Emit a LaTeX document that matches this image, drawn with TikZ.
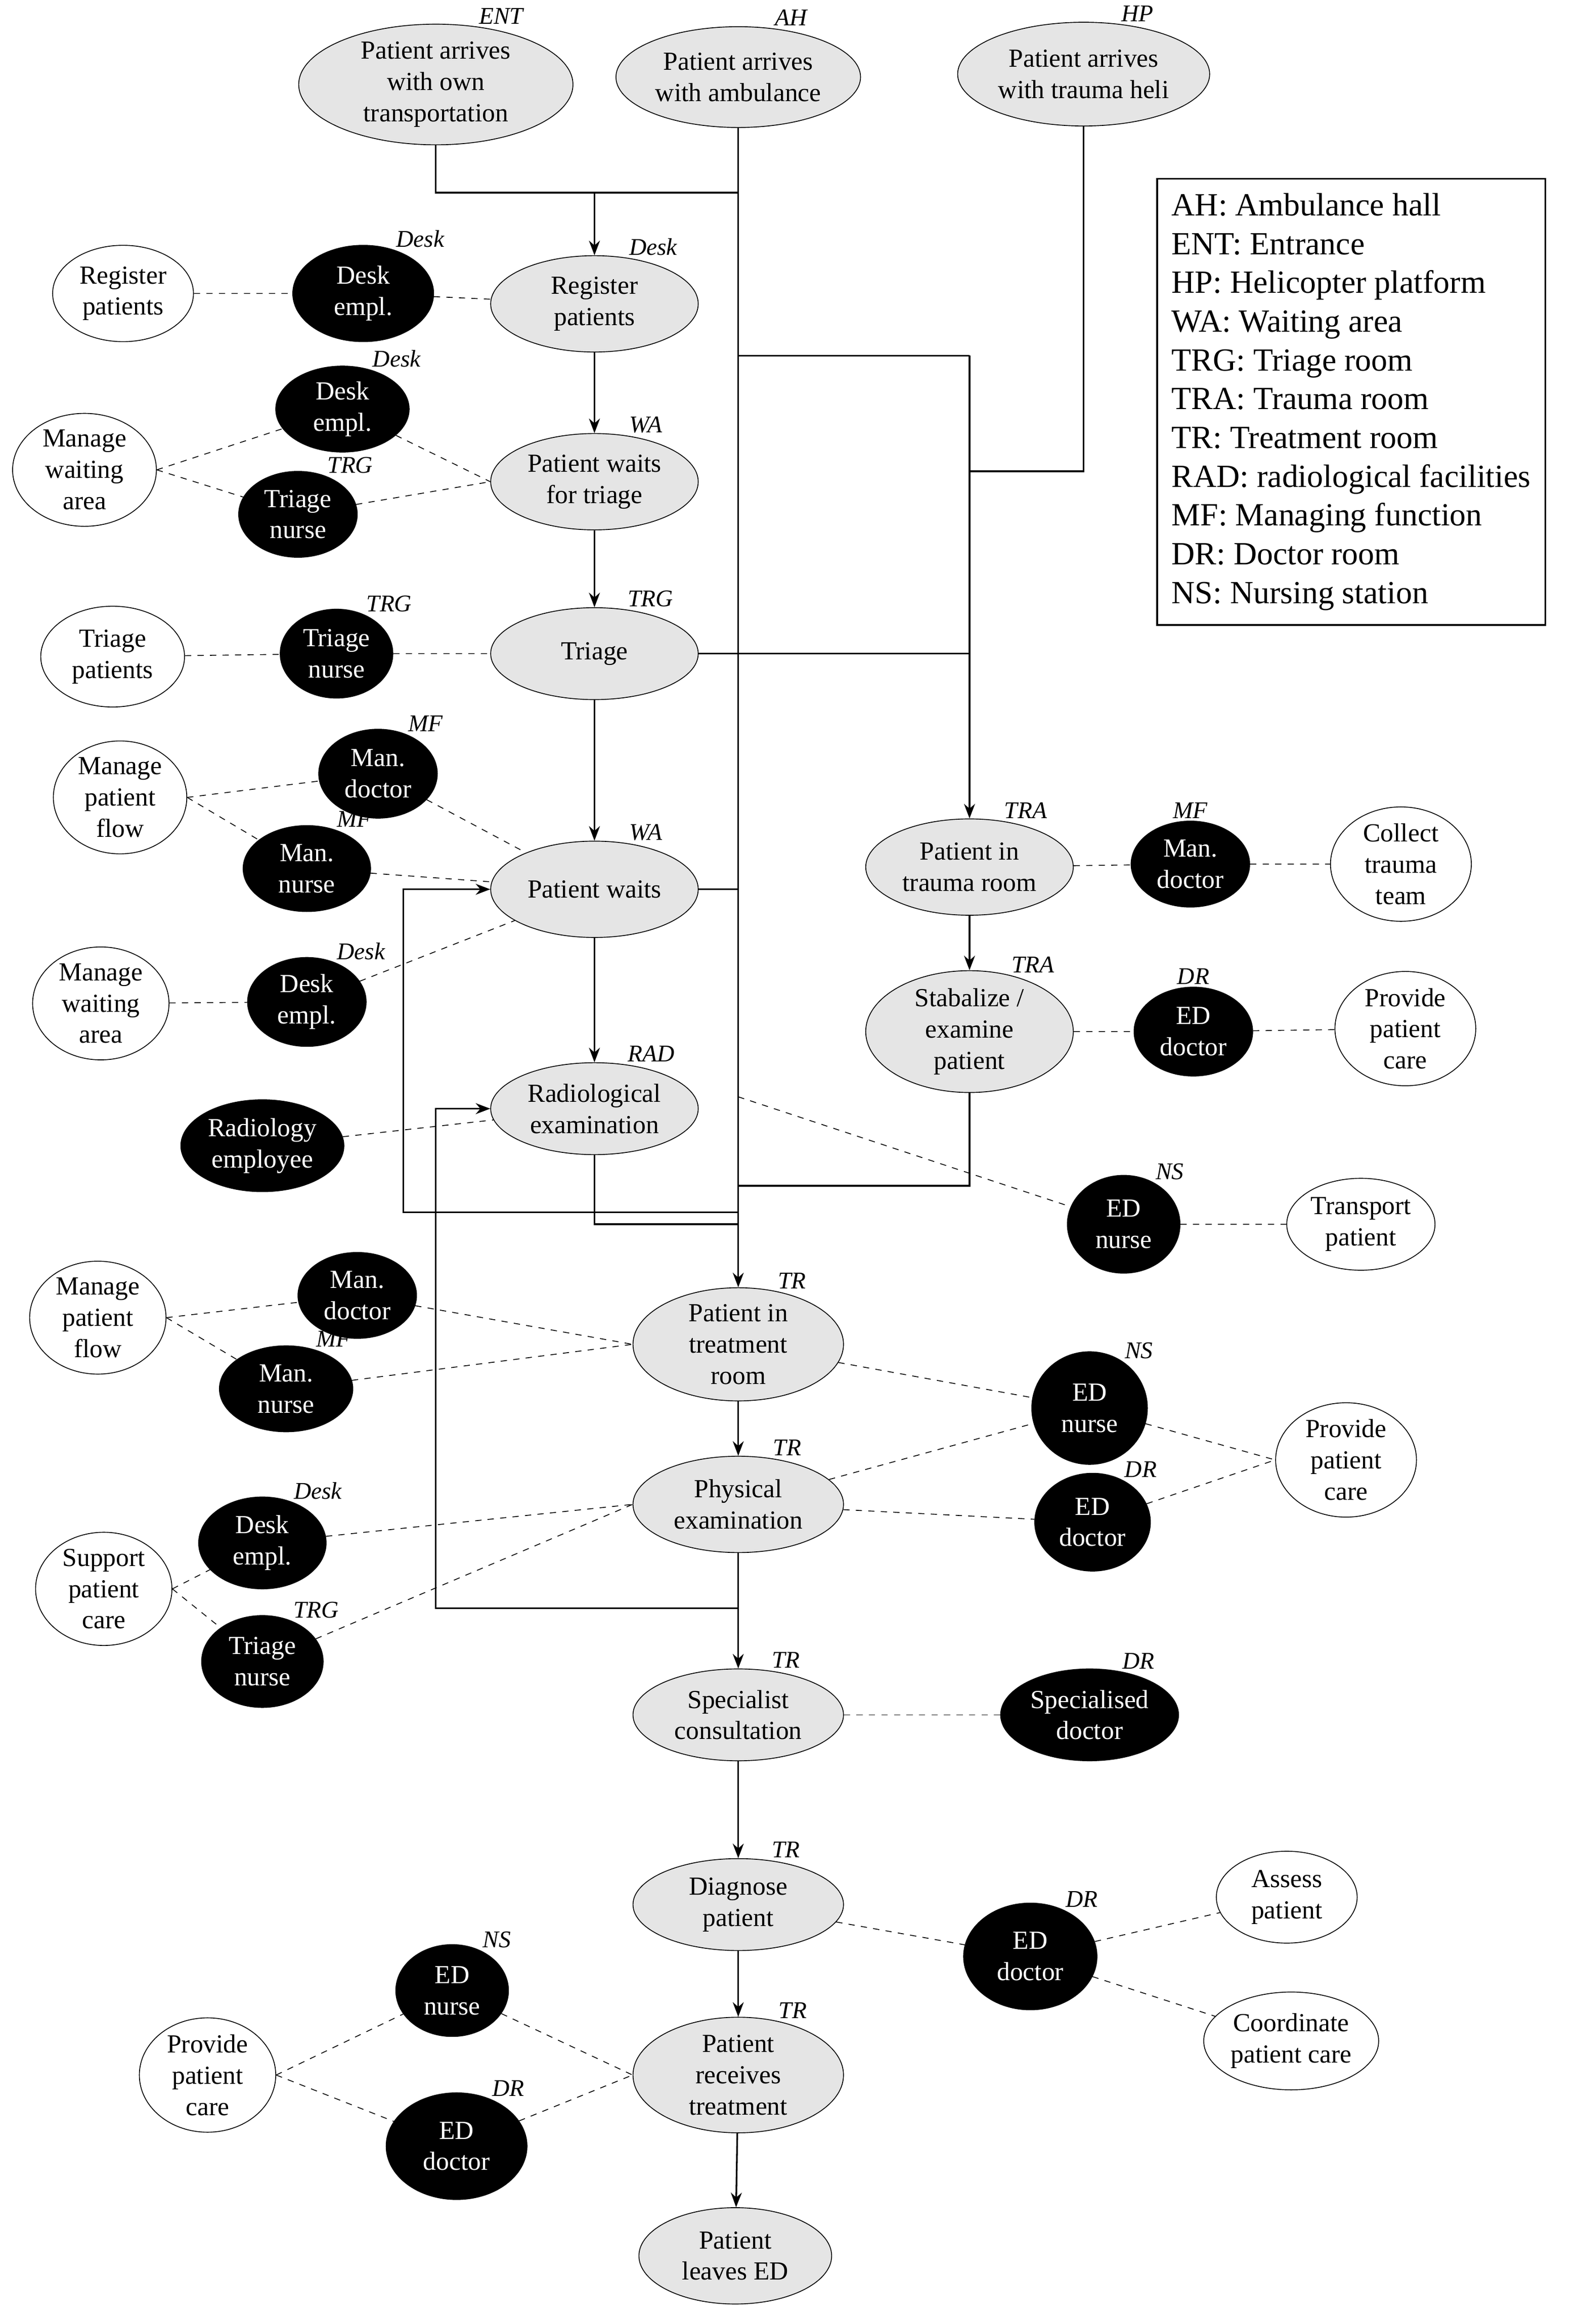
\documentclass[tikz,border=0pt]{standalone}
\usepackage{fontspec}
\setmainfont{Liberation Serif}
\usetikzlibrary{arrows.meta,positioning}

\tikzset{
  sz/.style 2 args={minimum width=#1*0.025cm, minimum height=#2*0.025cm},
  base/.style={ellipse, draw, inner sep=0pt, align=center, font=\fontsize{12.5}{15}\selectfont},
  act/.style={base, fill=gray!20},
  res/.style={base, fill=black, text=white},
  task/.style={base, fill=white},
  lab/.style={font=\fontsize{11.5}{13}\selectfont\itshape, inner sep=1pt, label distance=0pt},
  tag/.style={label={[lab]55:#1}},
  flow/.style={-{Stealth[length=7pt]}, thick},
  ln/.style={thick},
  dsh/.style={dashed, thin},
}
\usetikzlibrary{shapes.geometric}

\begin{document}
\begin{tikzpicture}[x=0.025cm, y=-0.025cm]
        \useasboundingbox (0,0) rectangle (1067,1568);
        % Activities
        \node[act, sz={185}{72}, tag=ENT] (ent) at (294,57) {Patient arrives\\with own\\transportation};
        \node[act, sz={165}{68}, tag=AH] (ah) at (498,52) {Patient arrives\\with ambulance};
        \node[act, sz={170}{70}, tag=HP] (hp) at (731,50) {Patient arrives\\with trauma heli};
        \node[act, sz={140}{65}, tag=Desk] (reg) at (401,205) {Register\\patients};
        \node[act, sz={140}{65}, tag=WA] (wait1) at (401,325) {Patient waits\\for triage};
        \node[act, sz={140}{62}, tag=TRG] (triage) at (401,441) {Triage};
        \node[act, sz={140}{65}, tag=WA] (waits) at (401,600) {Patient waits};
        \node[act, sz={140}{62}, tag=RAD] (rad) at (401,748) {Radiological\\examination};
        \node[act, sz={140}{65}, tag=TRA] (trauma) at (654,585) {Patient in\\trauma room};
        \node[act, sz={140}{78}, tag=TRA] (stab) at (654,696) {Stabalize /\\examine\\patient};
        \node[act, sz={142}{72}, tag=TR] (treat) at (498,907) {Patient in\\treatment\\room};
        \node[act, sz={142}{65}, tag=TR] (phys) at (498,1015) {Physical\\examination};
        \node[act, sz={142}{62}, tag=TR] (spec) at (498,1157) {Specialist\\consultation};
        \node[act, sz={142}{62}, tag=TR] (diag) at (498,1285) {Diagnose\\patient};
        \node[act, sz={142}{78}, tag=TR] (recv) at (498,1400) {Patient\\receives\\treatment};
        \node[act, sz={130}{65}] (leave) at (496,1522) {Patient\\leaves ED};

        % Resources
        \node[res, sz={95}{65}, tag=Desk] (desk1) at (245,198) {Desk\\empl.};
        \node[res, sz={90}{58}, tag=Desk] (desk2) at (231,276) {Desk\\empl.};
        \node[res, sz={80}{58}, tag=TRG] (tnurse1) at (201,347) {Triage\\nurse};
        \node[res, sz={76}{60}, tag=TRG] (tnurse2) at (227,441) {Triage\\nurse};
        \node[res, sz={80}{60}, tag=MF] (mdoc1) at (255,522) {Man.\\doctor};
        \node[res, sz={86}{58}, tag=MF] (mnurse1) at (207,586) {Man.\\nurse};
        \node[res, sz={80}{60}, tag=Desk] (desk3) at (207,676) {Desk\\empl.};
        \node[res, sz={110}{62}] (radiol) at (177,773) {Radiology\\employee};
        \node[res, sz={80}{58}] (mdoc2) at (241,874) {Man.\\doctor};
        \node[res, sz={90}{58}, tag=MF] (mnurse2) at (193,937) {Man.\\nurse};
        \node[res, sz={86}{62}, tag=Desk] (desk4) at (177,1041) {Desk\\empl.};
        \node[res, sz={82}{62}, tag=TRG] (tnurse3) at (177,1121) {Triage\\nurse};
        \node[res, sz={80}{58}, label={[lab]90:MF}] (mdoctra) at (803,583) {Man.\\doctor};
        \node[res, sz={80}{60}, label={[lab]90:DR}] (eddoc1) at (805,696) {ED\\doctor};
        \node[res, sz={76}{66}, tag=NS] (ednurse1) at (758,826) {ED\\nurse};
        \node[res, sz={78}{76}, tag=NS] (ednurse2) at (735,950) {ED\\nurse};
        \node[res, sz={78}{66}, tag=DR] (eddoc2) at (737,1027) {ED\\doctor};
        \node[res, sz={120}{62}, tag=DR] (specdoc) at (735,1157) {Specialised\\doctor};
        \node[res, sz={90}{72}, tag=DR] (eddoc3) at (695,1320) {ED\\doctor};
        \node[res, sz={76}{62}, tag=NS] (ednurse3) at (305,1343) {ED\\nurse};
        \node[res, sz={95}{72}, tag=DR] (eddoc4) at (308,1448) {ED\\doctor};

        % Tasks
        \node[task, sz={95}{65}] (regp) at (83,198) {Register\\patients};
        \node[task, sz={97}{68}] (mwa1) at (57,317) {Manage\\waiting\\area};
        \node[task, sz={97}{68}] (triagep) at (76,443) {Triage\\patients};
        \node[task, sz={90}{72}] (mpf1) at (81,538) {Manage\\patient\\flow};
        \node[task, sz={92}{68}] (mwa2) at (68,677) {Manage\\waiting\\area};
        \node[task, sz={92}{72}] (mpf2) at (66,889) {Manage\\patient\\flow};
        \node[task, sz={92}{72}] (spc) at (70,1072) {Support\\patient\\care};
        \node[task, sz={95}{68}] (collect) at (945,583) {Collect\\trauma\\team};
        \node[task, sz={95}{68}] (ppc1) at (948,694) {Provide\\patient\\care};
        \node[task, sz={100}{62}] (transport) at (918,826) {Transport\\patient};
        \node[task, sz={95}{70}] (ppc2) at (908,985) {Provide\\patient\\care};
        \node[task, sz={95}{62}] (assess) at (868,1280) {Assess\\patient};
        \node[task, sz={118}{66}] (coord) at (871,1377) {Coordinate\\patient care};
        \node[task, sz={92}{68}] (ppc3) at (140,1400) {Provide\\patient\\care};

        % Legend
        \node[draw, thick, align=left, inner sep=7pt, anchor=north west, font=\fontsize{15.5}{18.6}\selectfont] (legend) at (780,120)
          {AH: Ambulance hall\\ENT: Entrance\\HP: Helicopter platform\\WA: Waiting area\\TRG: Triage room\\TRA: Trauma room\\TR: Treatment room\\RAD: radiological facilities\\MF: Managing function\\DR: Doctor room\\NS: Nursing station};

        % Junctions
        \coordinate (jA) at (498,130);
        \coordinate (jB) at (401,130);
        \coordinate (jC) at (498,240);
        \coordinate (jD) at (654,240);
        \coordinate (jE) at (654,318);
        \coordinate (jF) at (498,862);

        % Flow
        \draw[ln] (ent.south) |- (jA);
        \draw[flow] (jB) -- (reg);
        \draw[ln] (ah) -- (jF);
        \draw[flow] (jF) -- (treat);
        \draw[ln] (hp.south) |- (jE);
        \draw[ln] (jC) -- (jD);
        \draw[flow] (jD) -- (trauma);
        \draw[ln] (triage.east) -- (triage.east -| jD);
        \draw[ln] (waits.east) -- (waits.east -| jA);
        \draw[ln] (stab.south) |- (498,800);
        \draw[ln] (rad.south) |- (498,826);
        \draw[flow] (498,818) -| (272,600) -- (waits.west);
        \draw[flow] (498,1085) -| (294,748) -- (rad.west);
        \draw[flow] (reg) -- (wait1);
        \draw[flow] (wait1) -- (triage);
        \draw[flow] (triage) -- (waits);
        \draw[flow] (waits) -- (rad);
        \draw[flow] (trauma) -- (stab);
        \draw[flow] (treat) -- (phys);
        \draw[flow] (phys) -- (spec);
        \draw[flow] (spec) -- (diag);
        \draw[flow] (diag) -- (recv);
        \draw[flow] (recv) -- (leave);

        % Assignments
        \draw[dsh] (regp) -- (desk1) -- (reg);
        \draw[dsh] (mwa1.east) -- (desk2) -- (wait1.west);
        \draw[dsh] (mwa1.east) -- (tnurse1) -- (wait1.west);
        \draw[dsh] (triagep) -- (tnurse2) -- (triage);
        \draw[dsh] (mpf1.east) -- (mdoc1) -- (waits);
        \draw[dsh] (mpf1.east) -- (mnurse1) -- (waits);
        \draw[dsh] (mwa2) -- (desk3) -- (waits);
        \draw[dsh] (radiol) -- (rad);
        \draw[dsh] (498,740) -- (ednurse1) -- (transport);
        \draw[dsh] (mpf2.east) -- (mdoc2) -- (treat.west);
        \draw[dsh] (mpf2.east) -- (mnurse2) -- (treat.west);
        \draw[dsh] (treat) -- (ednurse2) -- (ppc2.west);
        \draw[dsh] (phys) -- (ednurse2);
        \draw[dsh] (phys) -- (eddoc2) -- (ppc2.west);
        \draw[dsh] (spc.east) -- (desk4) -- (phys.west);
        \draw[dsh] (spc.east) -- (tnurse3) -- (phys.west);
        \draw[dsh] (trauma) -- (mdoctra) -- (collect);
        \draw[dsh] (stab) -- (eddoc1) -- (ppc1);
        \draw[dsh] (spec) -- (specdoc);
        \draw[dsh] (diag) -- (eddoc3);
        \draw[dsh] (eddoc3) -- (assess);
        \draw[dsh] (eddoc3) -- (coord);
        \draw[dsh] (ppc3.east) -- (ednurse3) -- (recv.west);
        \draw[dsh] (ppc3.east) -- (eddoc4) -- (recv.west);
    \end{tikzpicture}
\end{document}
